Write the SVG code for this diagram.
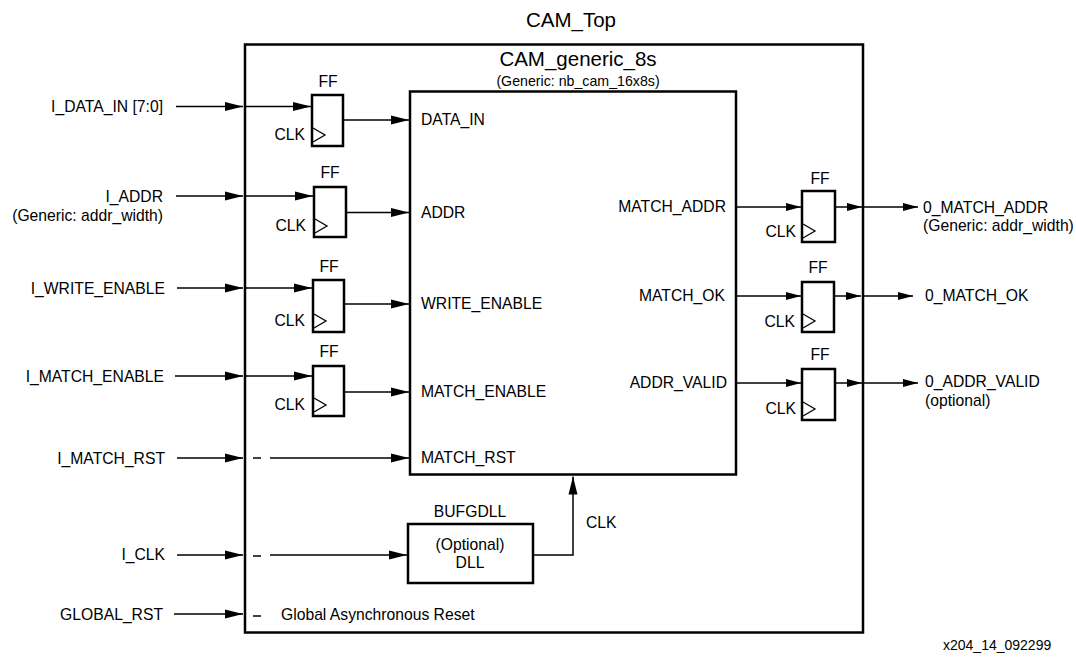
<svg xmlns="http://www.w3.org/2000/svg" width="1076" height="662" viewBox="0 0 1076 662">
<style>
text{font-family:"Liberation Sans",Arial,sans-serif;font-size:15.7px;fill:#000}
.t{font-size:20.5px}
.s{font-size:14.2px}
.f{font-size:14px}
.e{text-anchor:end}
.m{text-anchor:middle}
.box{fill:#fff;stroke:#000;stroke-width:2.5}
.ff{fill:#fff;stroke:#000;stroke-width:2.5}
.clk{fill:none;stroke:#000;stroke-width:1.3}
.c{fill:none;stroke:#000;stroke-width:1.5}
.d{stroke:#000;stroke-width:1.5}
</style>
<defs>
<marker id="ah" markerUnits="userSpaceOnUse" markerWidth="18" markerHeight="10" refX="18" refY="5" orient="auto">
<path d="M0,0.5 L18,5 L0,9.5 z" fill="#000"/>
</marker>
<marker id="as" markerUnits="userSpaceOnUse" markerWidth="15" markerHeight="10" refX="15" refY="5" orient="auto">
<path d="M0,1 L15,5 L0,9 z" fill="#000"/>
</marker>
</defs>
<rect width="1076" height="662" fill="#fff"/>

<g id="cam_top">
<rect class="box" x="245" y="44.5" width="618" height="588"/>
<text class="t m" x="571" y="27">CAM_Top</text>
</g>

<g id="cam_generic">
<rect class="box" x="410" y="91.5" width="326" height="383"/>
<text class="t m" x="578" y="66">CAM_generic_8s</text>
<text class="s m" x="578" y="86">(Generic: nb_cam_16x8s)</text>
<text x="421" y="125">DATA_IN</text>
<text x="421" y="218">ADDR</text>
<text x="421" y="309">WRITE_ENABLE</text>
<text x="421" y="397">MATCH_ENABLE</text>
<text x="421" y="463">MATCH_RST</text>
<text class="e" x="726" y="212">MATCH_ADDR</text>
<text class="e" x="725" y="301">MATCH_OK</text>
<text class="e" x="727" y="388">ADDR_VALID</text>
</g>

<g id="ff_data_in">
<rect class="ff" x="312" y="95" width="31" height="51"/>
<path class="clk" d="M313,128 L325,135 L313,142"/>
<text class="m" x="328" y="87">FF</text>
<text class="e" x="305" y="140">CLK</text>
</g>
<g id="ff_addr">
<rect class="ff" x="314" y="187" width="32" height="50"/>
<path class="clk" d="M315,219 L327,226 L315,233"/>
<text class="m" x="330" y="178">FF</text>
<text class="e" x="306" y="231">CLK</text>
</g>
<g id="ff_write_enable">
<rect class="ff" x="313" y="280" width="31" height="52"/>
<path class="clk" d="M314,314 L326,321 L314,328"/>
<text class="m" x="329" y="272">FF</text>
<text class="e" x="305" y="326">CLK</text>
</g>
<g id="ff_match_enable">
<rect class="ff" x="313" y="366" width="31" height="50"/>
<path class="clk" d="M314,398 L326,405 L314,412"/>
<text class="m" x="329" y="357">FF</text>
<text class="e" x="305" y="410">CLK</text>
</g>

<g id="ff_match_addr">
<rect class="ff" x="802" y="191" width="33" height="51"/>
<path class="clk" d="M803,224 L815,231 L803,238"/>
<text class="m" x="820" y="184">FF</text>
<text class="e" x="796" y="237">CLK</text>
</g>
<g id="ff_match_ok">
<rect class="ff" x="802" y="282" width="32" height="50"/>
<path class="clk" d="M803,314 L815,321 L803,328"/>
<text class="m" x="818" y="273">FF</text>
<text class="e" x="795" y="327">CLK</text>
</g>
<g id="ff_addr_valid">
<rect class="ff" x="802" y="369" width="33" height="51"/>
<path class="clk" d="M803,402 L815,409 L803,416"/>
<text class="m" x="820" y="360">FF</text>
<text class="e" x="796" y="414">CLK</text>
</g>

<g id="bufgdll">
<rect class="box" x="408" y="524" width="125" height="59"/>
<text class="m" x="470" y="517">BUFGDLL</text>
<text class="m" x="470" y="550">(Optional)</text>
<text class="m" x="470" y="568">DLL</text>
</g>

<g id="inputs">
<text class="e" x="163" y="112">I_DATA_IN [7:0]</text>
<text class="e" x="163" y="202">I_ADDR</text>
<text class="e" x="163" y="221">(Generic: addr_width)</text>
<text class="e" x="165" y="294">I_WRITE_ENABLE</text>
<text class="e" x="164" y="382">I_MATCH_ENABLE</text>
<text class="e" x="165" y="464">I_MATCH_RST</text>
<text class="e" x="165" y="560">I_CLK</text>
<text class="e" x="163" y="620">GLOBAL_RST</text>
<text x="281" y="620">Global Asynchronous Reset</text>
</g>

<g id="outputs">
<text x="923" y="213">0_MATCH_ADDR</text>
<text x="923" y="231">(Generic: addr_width)</text>
<text x="925" y="301">0_MATCH_OK</text>
<text x="925" y="387">0_ADDR_VALID</text>
<text x="925" y="406">(optional)</text>
<text class="f" x="943" y="650">x204_14_092299</text>
</g>

<g id="connectors">
<line class="c" x1="176" y1="106.5" x2="243" y2="106.5" marker-end="url(#ah)"/>
<line class="c" x1="176" y1="196" x2="243" y2="196" marker-end="url(#ah)"/>
<line class="c" x1="177" y1="288" x2="243" y2="288" marker-end="url(#ah)"/>
<line class="c" x1="175" y1="376" x2="243" y2="376" marker-end="url(#ah)"/>
<line class="c" x1="177" y1="458" x2="243" y2="458" marker-end="url(#ah)"/>
<line class="c" x1="177" y1="555" x2="243" y2="555" marker-end="url(#ah)"/>
<line class="c" x1="174" y1="614" x2="243" y2="614" marker-end="url(#ah)"/>

<line class="c" x1="246" y1="106.5" x2="311" y2="106.5" marker-end="url(#ah)"/>
<line class="c" x1="246" y1="196" x2="313" y2="196" marker-end="url(#ah)"/>
<line class="c" x1="246" y1="288" x2="312" y2="288" marker-end="url(#ah)"/>
<line class="c" x1="246" y1="376" x2="312" y2="376" marker-end="url(#ah)"/>

<line class="c" x1="343" y1="120" x2="409" y2="120" marker-end="url(#ah)"/>
<line class="c" x1="346" y1="212.5" x2="409" y2="212.5" marker-end="url(#ah)"/>
<line class="c" x1="344" y1="304" x2="409" y2="304" marker-end="url(#ah)"/>
<line class="c" x1="344" y1="392" x2="409" y2="392" marker-end="url(#ah)"/>

<line class="d" x1="253" y1="458" x2="261" y2="458"/>
<line class="c" x1="270" y1="458" x2="409" y2="458" marker-end="url(#ah)"/>
<line class="d" x1="253" y1="556" x2="261" y2="556"/>
<line class="c" x1="270" y1="555" x2="407" y2="555" marker-end="url(#ah)"/>
<line class="d" x1="253" y1="616" x2="261" y2="616"/>

<polyline class="c" points="533,555 573,555 573,476.5" marker-end="url(#ah)"/>
<text x="586" y="528">CLK</text>

<line class="c" x1="736" y1="207" x2="801" y2="207" marker-end="url(#as)"/>
<line class="c" x1="736" y1="296" x2="801" y2="296" marker-end="url(#as)"/>
<line class="c" x1="736" y1="383" x2="801" y2="383" marker-end="url(#as)"/>

<line class="c" x1="835" y1="207" x2="862" y2="207" marker-end="url(#as)"/>
<line class="c" x1="834" y1="296" x2="861" y2="296" marker-end="url(#as)"/>
<line class="c" x1="835" y1="383" x2="862" y2="383" marker-end="url(#as)"/>

<line class="c" x1="864" y1="207" x2="918" y2="207" marker-end="url(#as)"/>
<line class="c" x1="864" y1="296" x2="913" y2="296" marker-end="url(#as)"/>
<line class="c" x1="864" y1="383" x2="918" y2="383" marker-end="url(#as)"/>
</g>
</svg>
